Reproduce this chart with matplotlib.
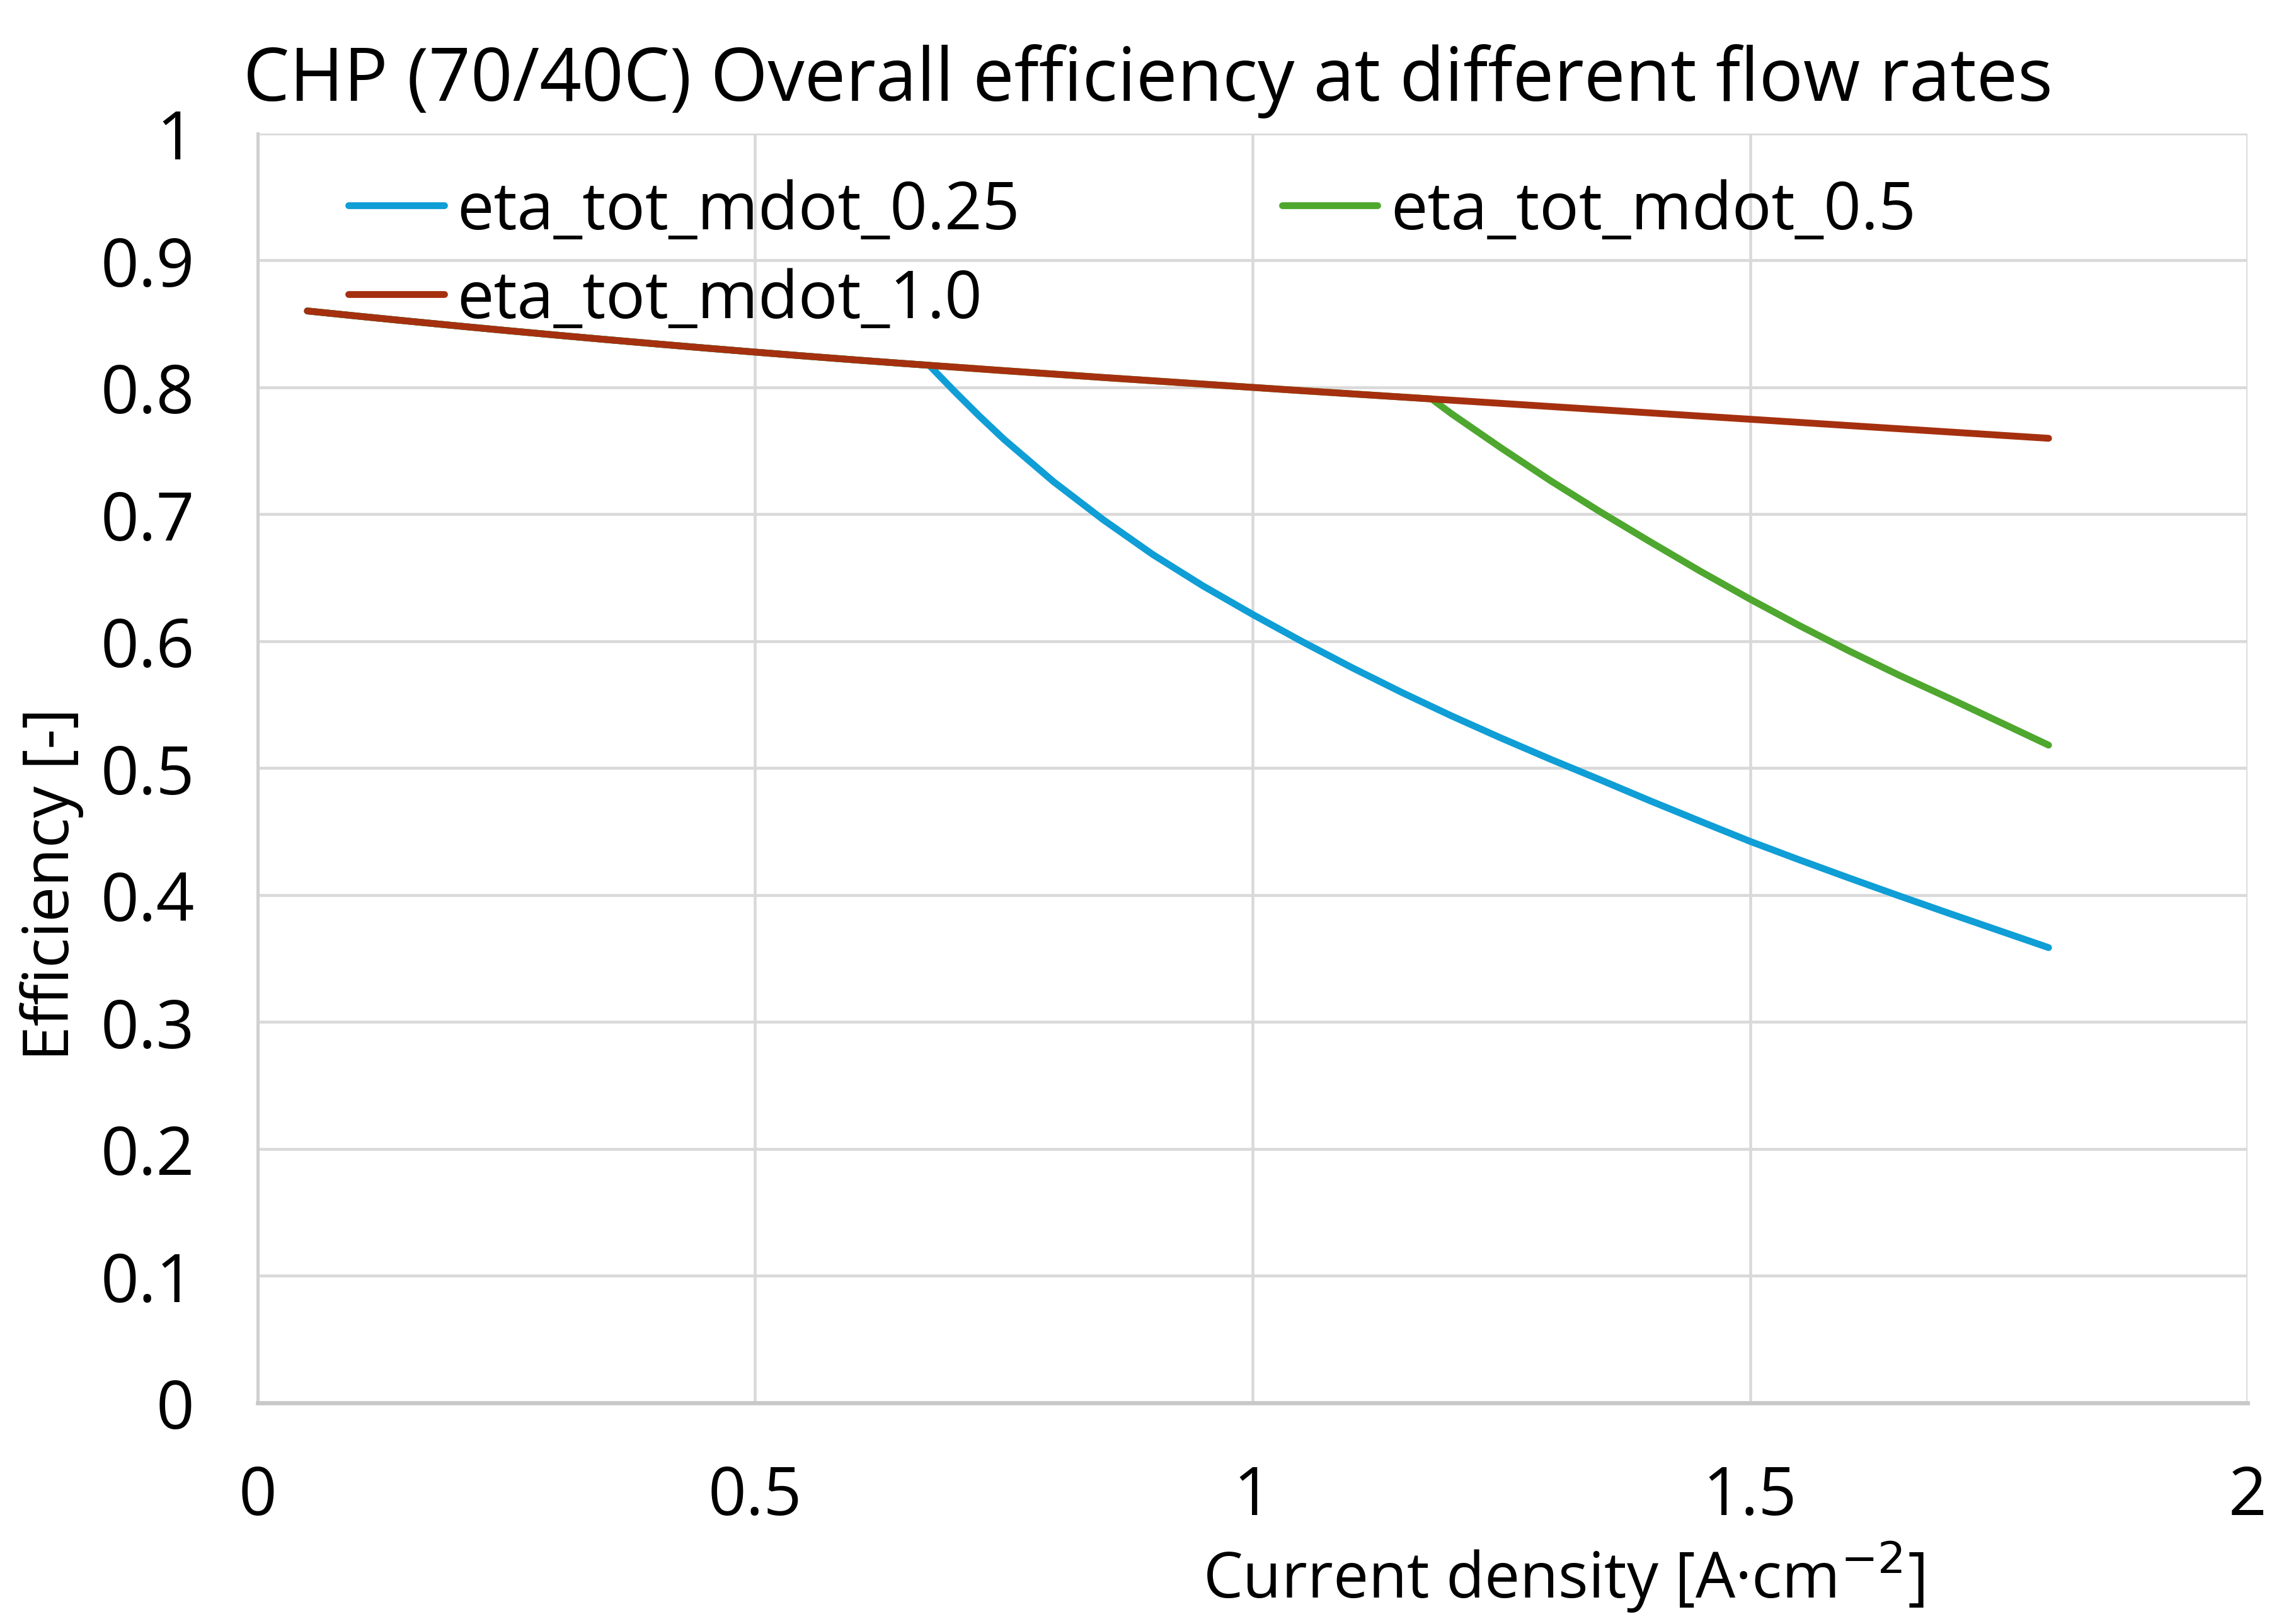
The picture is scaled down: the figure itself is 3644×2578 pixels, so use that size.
import matplotlib.pyplot as plt

plt.rcParams["font.family"] = ["Open Sans", "DejaVu Sans"]

# current density [A/cm2]
current_density = [0.05, 0.10, 0.15, 0.20, 0.25, 0.30, 0.35, 0.40, 0.45, 0.50,
                   0.55, 0.60, 0.65, 0.70, 0.75, 0.80, 0.85, 0.90, 0.95, 1.00,
                   1.05, 1.10, 1.15, 1.20, 1.25, 1.30, 1.35, 1.40, 1.45, 1.50,
                   1.55, 1.60, 1.65, 1.70, 1.75, 1.80]

eta_mdot_1_0 = [0.8600, 0.8560, 0.8521, 0.8483, 0.8446, 0.8410, 0.8375, 0.8341, 0.8308, 0.8276,
                0.8245, 0.8215, 0.8186, 0.8158, 0.8130, 0.8103, 0.8076, 0.8050, 0.8024, 0.7998,
                0.7972, 0.7947, 0.7922, 0.7897, 0.7872, 0.7847, 0.7822, 0.7797, 0.7772, 0.7747,
                0.7722, 0.7697, 0.7672, 0.7647, 0.7622, 0.7597]

# mdot 0.5 leaves the 1.0 curve at ~1.18 A/cm2
x_mdot_0_5 = [0.05, 0.10, 0.15, 0.20, 0.25, 0.30, 0.35, 0.40, 0.45, 0.50,
              0.55, 0.60, 0.65, 0.70, 0.75, 0.80, 0.85, 0.90, 0.95, 1.00,
              1.05, 1.10, 1.15, 1.18, 1.20, 1.25, 1.30, 1.35, 1.40, 1.45, 1.50,
              1.55, 1.60, 1.65, 1.70, 1.75, 1.80]
eta_mdot_0_5 = [0.8600, 0.8560, 0.8521, 0.8483, 0.8446, 0.8410, 0.8375, 0.8341, 0.8308, 0.8276,
                0.8245, 0.8215, 0.8186, 0.8158, 0.8130, 0.8103, 0.8076, 0.8050, 0.8024, 0.7998,
                0.7972, 0.7947, 0.7922, 0.7907, 0.779, 0.752, 0.726, 0.7015, 0.678, 0.655, 0.633,
                0.612, 0.592, 0.573, 0.555, 0.5365, 0.518]

# mdot 0.25 leaves the 1.0 curve at ~0.675 A/cm2
x_mdot_0_25 = [0.05, 0.10, 0.15, 0.20, 0.25, 0.30, 0.35, 0.40, 0.45, 0.50,
               0.55, 0.60, 0.65, 0.675, 0.70, 0.725, 0.75, 0.80, 0.85, 0.90, 0.95, 1.00,
               1.05, 1.10, 1.15, 1.20, 1.25, 1.30, 1.35, 1.40, 1.45, 1.50,
               1.55, 1.60, 1.65, 1.70, 1.75, 1.80]
eta_mdot_0_25 = [0.8600, 0.8560, 0.8521, 0.8483, 0.8446, 0.8410, 0.8375, 0.8341, 0.8308, 0.8276,
                 0.8245, 0.8215, 0.8186, 0.8172, 0.797, 0.7775, 0.759, 0.7255, 0.6955, 0.668, 0.6435, 0.621,
                 0.5995, 0.579, 0.5595, 0.541, 0.5235, 0.5067, 0.4905, 0.474, 0.458, 0.4422,
                 0.4275, 0.4132, 0.3992, 0.3855, 0.372, 0.3585]

labels = ["eta_tot_mdot_0.25", "eta_tot_mdot_0.5", "eta_tot_mdot_1.0"]
colors = ["#0F9ED5", "#4EA72E", "#A5300F"]

fig = plt.figure(figsize=(3644 / 300, 2579 / 300), dpi=300)
ax = fig.add_axes([0.1122, 0.1362, 0.8667, 0.7814])

series = [(x_mdot_0_25, eta_mdot_0_25), (x_mdot_0_5, eta_mdot_0_5), (current_density, eta_mdot_1_0)]
handles = []
for (x, y), lab, c in zip(series, labels, colors):
    ln, = ax.plot(x, y, color=c, lw=2.6, label=lab,
                  solid_capstyle="round", solid_joinstyle="round")
    handles.append(ln)

ax.set_xlim(0, 2)
ax.set_ylim(0, 1)
ax.set_xticks([0, 0.5, 1, 1.5, 2])
ax.set_xticklabels(["0", "0.5", "1", "1.5", "2"])
ax.set_yticks([i / 10 for i in range(11)])
ax.set_yticklabels(["0", "0.1", "0.2", "0.3", "0.4", "0.5", "0.6", "0.7", "0.8", "0.9", "1"])
ax.tick_params(length=0, labelsize=25.5, pad=24)
ax.tick_params(axis="x", pad=23)
ax.grid(True, color="#D9D9D9", lw=1.1)
ax.set_axisbelow(True)
for s in ["top", "right"]:
    ax.spines[s].set_visible(False)
ax.spines["left"].set_color("#D0D0D0")
ax.spines["bottom"].set_color("#C8C8C8")
ax.spines["left"].set_linewidth(1.2)
ax.spines["bottom"].set_linewidth(1.6)

# legend is filled row by row in the reference
order = [0, 2, 1]
ax.legend([handles[i] for i in order], [labels[i] for i in order],
          loc="upper left", bbox_to_anchor=(0.0326, 0.985), ncol=2, frameon=False,
          fontsize=25, handlelength=1.45, handletextpad=0.2, columnspacing=4.0,
          labelspacing=0.35, borderaxespad=0)

fig.text(0.5, 0.938, "CHP (70/40C) Overall efficiency at different flow rates",
         ha="center", va="baseline", fontsize=28)
fig.text(0.0224, 0.4556, "Efficiency [-]", rotation=90, ha="center", va="center", fontsize=24)
fig.text(0.681, 0.029, "Current density [A·cm$^{-2}$]", ha="center", va="center", fontsize=24)

fig.savefig("out.png", dpi=300)
plt.close(fig)
